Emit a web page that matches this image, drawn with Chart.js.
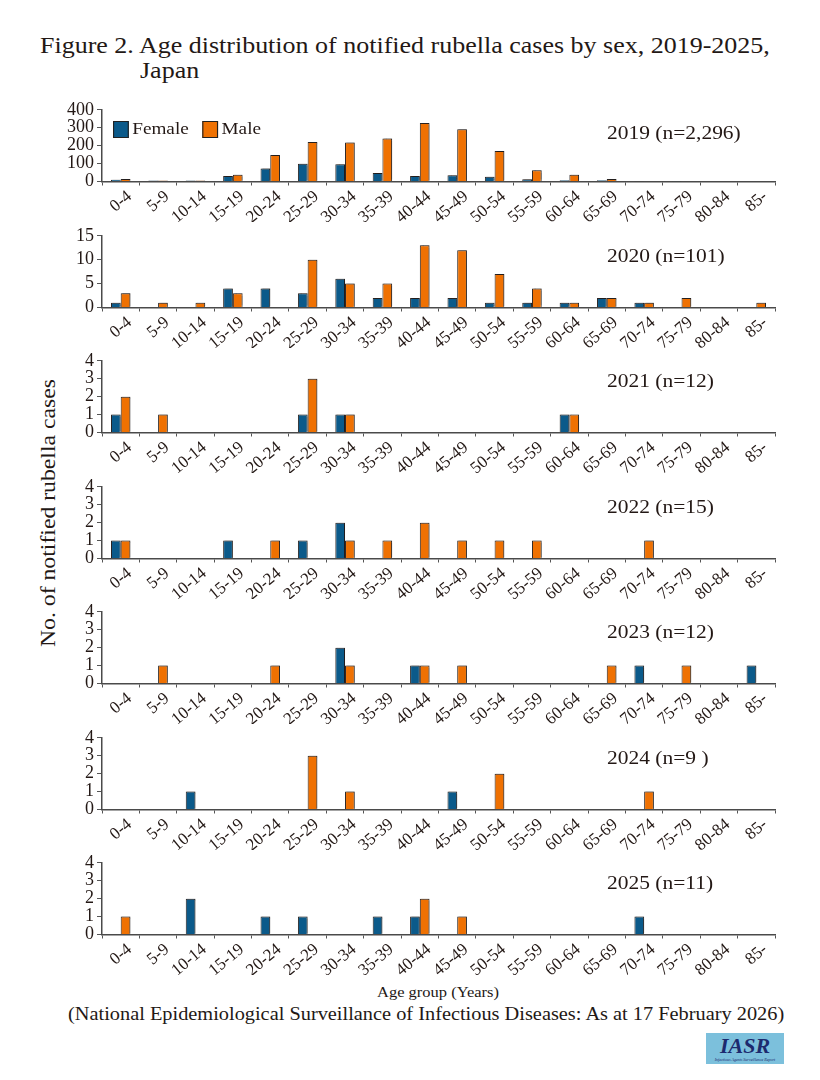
<!DOCTYPE html>
<html>
<head>
<meta charset="utf-8">
<title>Figure 2. Age distribution of notified rubella cases by sex</title>
<script src="https://cdn.jsdelivr.net/npm/chart.js@4.4.1/dist/chart.umd.min.js"></script>
<style>
  body { margin: 0; background: #fff; }
  #page { position: relative; width: 820px; height: 1080px; overflow: hidden;
          font-family: "Liberation Serif", "DejaVu Serif", serif; color: #231815; }
  .panel { position: absolute; left: 0; width: 820px; height: 126px; }
  .wide { transform-origin: 0 50%; transform: scaleX(1.13); }
  .title { position: absolute; left: 40px; font-size: 23px; white-space: nowrap; }
  .year { position: absolute; left: 607px; font-size: 19px; white-space: nowrap; }
  .legend { position: absolute; left: 113px; top: 119px; font-size: 17px; display: flex; align-items: center; }
  .legend .box { width: 12px; height: 15px; border: 1px solid #222; margin-right: 3px; }
  .ytitle { position: absolute; left: 48px; top: 513px; font-size: 21px; white-space: nowrap;
            transform: translate(-50%, -50%) rotate(-90deg) scaleX(1.13); }
  .xtitle { position: absolute; left: 438px; top: 984px; font-size: 15px; white-space: nowrap;
            transform: translateX(-50%) scaleX(1.1); }
  .source { position: absolute; left: 68px; top: 1004px; font-size: 18px; white-space: nowrap; }
  .logo { position: absolute; left: 706px; top: 1033px; width: 78px; height: 31px; background: #7cc0dc;
          text-align: center; }
  .logo .big { font-style: italic; font-weight: bold; color: #1d2a6e; font-size: 22px; line-height: 22px; display: block; margin-top: 2px; }
  .logo .small { font-size: 4px; color: #1d2a6e; display: block; font-style: italic; }
</style>
</head>
<body>
<div id="page">
  <div class="title wide" style="top:33px">Figure 2. Age distribution of notified rubella cases by sex, 2019-2025,</div>
  <div class="title wide" style="top:58px; left:140px">Japan</div>
  <div class="ytitle">No. of notified rubella cases</div>
  <div class="xtitle">Age group (Years)</div>
  <div class="source wide">(National Epidemiological Surveillance of Infectious Diseases: As at 17 February 2026)</div>
  <div class="logo"><span class="big">IASR</span><span class="small">Infectious Agents Surveillance Report</span></div>
</div>
<script>
const ageGroups = ['0-4', '5-9', '10-14', '15-19', '20-24', '25-29', '30-34', '35-39', '40-44',
  '45-49', '50-54', '55-59', '60-64', '65-69', '70-74', '75-79', '80-84', '85-'];

const female2019 = [10, 6, 5, 31, 73, 99, 96, 47, 30, 35, 26, 12, 7, 7, 2, 1, 0, 0];
const male2019   = [14, 6, 5, 38, 148, 221, 217, 240, 327, 292, 170, 63, 37, 14, 3, 3, 0, 0];
const female2020 = [1, 0, 0, 4, 4, 3, 6, 2, 2, 2, 1, 1, 1, 2, 1, 0, 0, 0];
const male2020   = [3, 1, 1, 3, 0, 10, 5, 5, 13, 12, 7, 4, 1, 2, 1, 2, 0, 1];
const female2021 = [1, 0, 0, 0, 0, 1, 1, 0, 0, 0, 0, 0, 1, 0, 0, 0, 0, 0];
const male2021   = [2, 1, 0, 0, 0, 3, 1, 0, 0, 0, 0, 0, 1, 0, 0, 0, 0, 0];
const female2022 = [1, 0, 0, 1, 0, 1, 2, 0, 0, 0, 0, 0, 0, 0, 0, 0, 0, 0];
const male2022   = [1, 0, 0, 0, 1, 0, 1, 1, 2, 1, 1, 1, 0, 0, 1, 0, 0, 0];
const female2023 = [0, 0, 0, 0, 0, 0, 2, 0, 1, 0, 0, 0, 0, 0, 1, 0, 0, 1];
const male2023   = [0, 1, 0, 0, 1, 0, 1, 0, 1, 1, 0, 0, 0, 1, 0, 1, 0, 0];
const female2024 = [0, 0, 1, 0, 0, 0, 0, 0, 0, 1, 0, 0, 0, 0, 0, 0, 0, 0];
const male2024   = [0, 0, 0, 0, 0, 3, 1, 0, 0, 0, 2, 0, 0, 0, 1, 0, 0, 0];
const female2025 = [0, 0, 2, 0, 1, 1, 0, 1, 1, 0, 0, 0, 0, 0, 1, 0, 0, 0];
const male2025   = [1, 0, 0, 0, 0, 0, 0, 0, 2, 1, 0, 0, 0, 0, 0, 0, 0, 0];

const yearLabels = ['2019 (n=2,296)', '2020 (n=101)', '2021 (n=12)', '2022 (n=15)',
  '2023 (n=12)', '2024 (n=9 )', '2025 (n=11)'];
const yMax  = [400, 15, 4, 4, 4, 4, 4];
const yStep = [100, 5, 1, 1, 1, 1, 1];

const femaleSeries = [female2019, female2020, female2021, female2022, female2023, female2024, female2025];
const maleSeries   = [male2019, male2020, male2021, male2022, male2023, male2024, male2025];

const FEMALE = '#0b5a8a';
const MALE = '#ef7102';
const INK = '#231815';

Chart.defaults.font.family = "'Liberation Serif', 'DejaVu Serif', serif";
Chart.defaults.color = INK;

// soft grey shadow behind the bars, like the original figure
const barShadow = {
  id: 'barShadow',
  beforeDatasetsDraw(chart) {
    const c = chart.ctx;
    c.save();
    c.shadowColor = 'rgba(0,0,0,0.25)';
    c.shadowOffsetX = 1.5;
    c.shadowOffsetY = -1;
    c.shadowBlur = 1;
  },
  afterDatasetsDraw(chart) { chart.ctx.restore(); }
};

const page = document.getElementById('page');
const plotTop0 = 104, panelGap = 125.5, padTop = 8, plotH = 77.5;
const W = 820, H = 126;

yearLabels.forEach((label, i) => {
  const top = plotTop0 + i * panelGap - padTop;
  const wrap = document.createElement('div');
  wrap.className = 'panel';
  wrap.style.top = top + 'px';
  const cv = document.createElement('canvas');
  cv.width = W;
  cv.height = H;
  cv.style.width = W + 'px';
  cv.style.height = H + 'px';
  wrap.appendChild(cv);
  page.appendChild(wrap);

  const yr = document.createElement('div');
  yr.className = 'year wide';
  yr.textContent = label;
  yr.style.top = (plotTop0 + i * panelGap + (i === 0 ? 18 : 15)) + 'px';
  page.appendChild(yr);

  new Chart(cv, {
    type: 'bar',
    data: {
      labels: ageGroups,
      datasets: [
        { label: 'Female', data: femaleSeries[i], backgroundColor: FEMALE },
        { label: 'Male', data: maleSeries[i], backgroundColor: MALE }
      ]
    },
    options: {
      responsive: false,
      animation: false,
      devicePixelRatio: 1,
      layout: { padding: { top: padTop, left: 0, right: 45, bottom: 0 } },
      datasets: {
        bar: { borderColor: '#2b2523', borderWidth: 1, borderSkipped: 'start',
               categoryPercentage: 0.52, barPercentage: 1.0 }
      },
      plugins: { legend: { display: false }, tooltip: { enabled: false } },
      scales: {
        x: {
          afterFit(s) { s.height = H - padTop - plotH; },
          grid: { drawOnChartArea: false, drawTicks: true, tickLength: 4, color: '#555', offset: true },
          border: { color: '#4a4a4a', width: 1.5 },
          ticks: { minRotation: 40, maxRotation: 40, autoSkip: false, padding: 1, labelOffset: 9,
                   font: { size: 17 }, color: INK }
        },
        y: {
          min: 0, max: yMax[i],
          afterFit(s) { s.width = 102; },
          grid: { drawOnChartArea: false, drawTicks: true, tickLength: 5, color: '#555' },
          border: { color: '#4a4a4a', width: 1.5 },
          ticks: { stepSize: yStep[i], autoSkip: false, padding: 3, font: { size: 18 }, color: INK }
        }
      }
    },
    plugins: [barShadow]
  });
});

// legend in the first panel
const lg = document.createElement('div');
lg.className = 'legend wide';
lg.innerHTML = '<span class="box" style="background:' + FEMALE + '"></span><span>Female</span>' +
  '<span class="box" style="background:' + MALE + ';margin-left:12px"></span><span>Male</span>';
page.appendChild(lg);
</script>
</body>
</html>
